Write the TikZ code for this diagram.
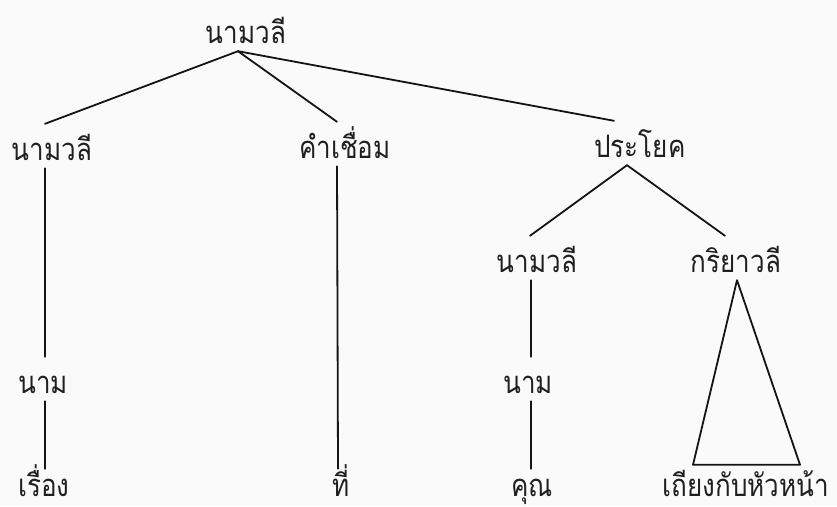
\documentclass[tikz,border=0pt]{standalone}
\usepackage{fontspec}
\newfontfamily\thaifont[Script=Thai,FakeStretch=0.84]{Loma}
\begin{document}
\begin{tikzpicture}[x=1pt,y=-1pt,
  lbl/.style={font=\thaifont\fontsize{31}{36}\selectfont, text=black!88, inner sep=0pt,
    text height=36pt, text depth=8pt, anchor=base},
  leaf/.style={lbl, text height=27pt, text depth=3pt},
  edge/.style={draw=black!92, line width=1.8pt, line cap=round, line join=round}]
\fill[white!96!gray] (0,0) rectangle (837,506);
\useasboundingbox (0,0) rectangle (837,506);
% nodes
\node[lbl] (root) at (246,43) {นามวลี};
\node[lbl] (np1) at (52,160) {นามวลี};
\node[lbl] (conj) at (345,158) {คำเชื่อม};
\node[lbl] (s) at (640,157) {ประโยค};
\node[lbl] (np2) at (537,272) {นามวลี};
\node[lbl] (vp) at (736,272) {กริยาวลี};
\node[lbl] (n1) at (43,393) {นาม};
\node[lbl] (n2) at (528,393) {นาม};
\node[leaf] (w1) at (44,496) {เรื่อง};
\node[leaf] (w2) at (341,496) {ที่};
\node[leaf] (w3) at (532,496) {คุณ};
\node[leaf] (w4) at (746,496) {เถียงกับหัวหน้า};
% connectors
\draw[edge] ([xshift=-8pt]root.south) -- ([xshift=-7pt]np1.north);
\draw[edge] ([xshift=-8pt]root.south) -- ([xshift=-8pt]conj.north);
\draw[edge] ([xshift=-8pt]root.south) -- ([xshift=-26pt]s.north);
\draw[edge] ([xshift=-7pt]np1.south) -- ([xshift=2pt]n1.north);
\draw[edge] ([xshift=2pt]n1.south) -- ([xshift=1pt]w1.north);
\draw[edge] ([xshift=-8pt]conj.south) -- ([xshift=-3pt]w2.north);
\draw[edge] ([xshift=-13pt]s.south) -- ([xshift=-7pt]np2.north);
\draw[edge] ([xshift=-13pt]s.south) -- ([xshift=-11pt]vp.north);
\draw[edge] ([xshift=-6pt]np2.south) -- ([xshift=3pt]n2.north);
\draw[edge] ([xshift=3pt]n2.south) -- ([xshift=-1pt]w3.north);
\coordinate (bl) at ([xshift=-53pt,yshift=4pt]w4.north);
\coordinate (br) at ([xshift=54pt,yshift=4pt]w4.north);
\draw[edge] ([xshift=1pt]vp.south) -- (bl) -- (br) -- cycle;
\end{tikzpicture}
\end{document}
